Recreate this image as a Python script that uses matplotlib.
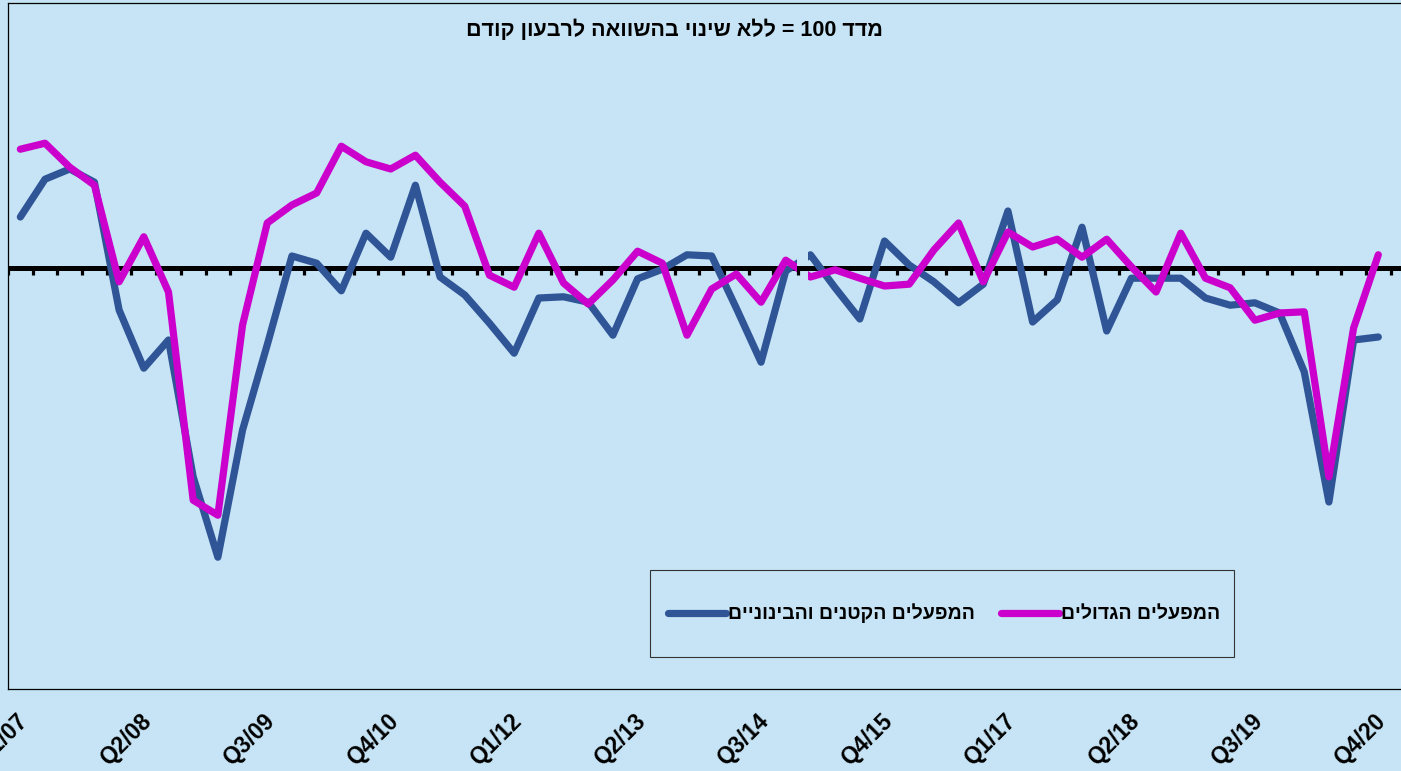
import re
import numpy as np
import matplotlib.pyplot as plt
from matplotlib.patches import Rectangle
import matplotlib.transforms as mtransforms

# quarterly index, 100 = no change vs previous quarter (Q1/07 .. Q4/20)
quarters = [f'Q{q}/{y:02d}' for y in range(7, 21) for q in range(1, 5)]

large = [119.8, 120.8, 116.8, 113.8, 97.7, 105.2, 96.0, 61.3, 58.8, 90.5,
         107.5, 110.5, 112.5, 120.3, 117.7, 116.5, 118.8, 114.3, 110.3, 98.8,
         96.8, 105.8, 97.5, 94.0, 98.0, 102.8, 100.8, 88.8, 96.5, 99.0,
         94.3, 101.3, 98.5, 99.7, 98.3, 97.0, 97.3, 103.0, 107.5, 97.7,
         106.0, 103.5, 104.8, 101.8, 104.8, 100.2, 96.0, 105.8, 98.3, 96.7,
         91.3, 92.5, 92.7, 65.2, 90.0, 102.2]

small_medium = [108.5, 114.8, 116.5, 114.3, 93.0, 83.3, 88.0, 65.2, 51.8, 73.0,
                87.2, 102.0, 100.8, 96.2, 105.8, 101.8, 113.8, 98.5, 95.5, 90.8,
                85.8, 95.0, 95.2, 94.3, 88.8, 98.2, 99.8, 102.2, 102.0, 93.3,
                84.3, 99.5, 102.2, 96.7, 91.5, 104.5, 100.5, 97.7, 94.2, 97.3,
                109.5, 91.0, 94.7, 106.8, 89.5, 98.3, 98.3, 98.3, 95.0, 93.8,
                94.2, 92.5, 82.7, 61.0, 88.0, 88.5]

title_text = 'מדד 100 = ללא שינוי בהשוואה לרבעון קודם'
label_large = 'המפעלים הגדולים'
label_small = 'המפעלים הקטנים והבינוניים'


def rtl(s):
    # matplotlib has no bidi support: put Hebrew in visual order, keep numbers LTR
    r = s[::-1]
    return re.sub(r'[0-9]+', lambda m: m.group(0)[::-1], r)


BG = '#C6E4F5'
BLUE = '#2F5597'
MAGENTA = '#CC00CC'
FONT = ['Liberation Sans', 'DejaVu Sans']
plt.rcParams['font.family'] = FONT

W, H = 1401, 771
fig = plt.figure(figsize=(W / 100, H / 100), dpi=100, facecolor=BG)
ax = fig.add_axes([8 / W, (H - 689) / H, (1420 - 8) / W, (689 - 3) / H])
ax.set_facecolor(BG)

x = np.arange(len(quarters))
ax.set_xlim(-0.5, -0.5 + (1420 - 8) / 24.69)
ax.set_ylim(100 - (689 - 268) / 6, 100 + (268 - 3) / 6)

# reference line at 100 with category tick marks hanging below it
ax.axhline(100, color='black', lw=3.6, zorder=2)
bounds = np.arange(-0.5, len(quarters) + 1.5, 1)
ax.plot(bounds, np.full(len(bounds), 100.0), linestyle='none', marker=3,
        ms=5, mew=2.3, color='black', zorder=2)

# both series are broken between Q4/14 and Q1/15
clips = [(-1, 31.45), (31.9, 60)]
lines = {}
for vals, col, z in [(small_medium, BLUE, 3), (large, MAGENTA, 4)]:
    for lo, hi in clips:
        ln, = ax.plot(x, vals, color=col, lw=5.2, solid_capstyle='round',
                      solid_joinstyle='round', zorder=z)
        ln.set_clip_path(Rectangle((lo, 0), hi - lo, 200, transform=ax.transData))
        lines[col] = ln

for side in ['left', 'top', 'bottom']:
    ax.spines[side].set_color('black')
    ax.spines[side].set_linewidth(0.9)
ax.spines['right'].set_visible(False)

ax.set_yticks([])
ax.set_xticks(x[::5])
ax.set_xticklabels(quarters[::5], rotation=45, ha='right', va='top',
                   rotation_mode='anchor', fontsize=16.5, fontweight='bold')
ax.tick_params(axis='x', length=0, pad=15)
offset = mtransforms.ScaledTranslation(-4 / 100, 0, fig.dpi_scale_trans)
for lab in ax.get_xticklabels():
    lab.set_transform(lab.get_transform() + offset)

fig.text(674 / W, 1 - 30 / H, rtl(title_text), ha='center', va='center',
         fontsize=15.5, fontweight='bold')

ax.legend(handles=[lines[BLUE], lines[MAGENTA]],
          labels=[rtl(label_small), rtl(label_large)],
          ncol=2, loc='center', bbox_to_anchor=(944 / W, 1 - 613.5 / H),
          bbox_transform=fig.transFigure, frameon=False,
          handlelength=3.0, handletextpad=0.1, columnspacing=1.3,
          prop=dict(family=FONT, weight='bold', size=14))
fig.add_artist(Rectangle((650 / W, (H - 657) / H), (1234 - 650) / W, (657 - 570) / H,
                         transform=fig.transFigure, fill=False,
                         edgecolor='#333333', lw=0.8))

fig.savefig('out.png', dpi=100, facecolor=BG)
